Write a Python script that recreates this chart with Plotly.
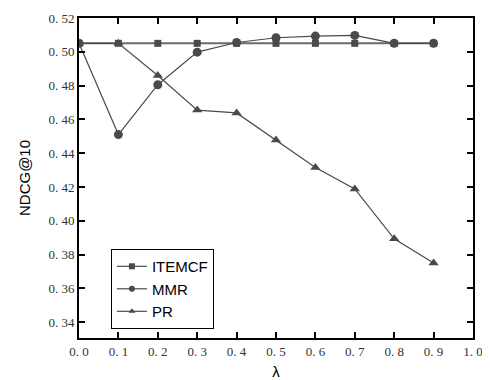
import plotly.graph_objects as go

lam = [0.0, 0.1, 0.2, 0.3, 0.4, 0.5, 0.6, 0.7, 0.8, 0.9]
itemcf = [0.505, 0.505, 0.505, 0.505, 0.505, 0.505, 0.505, 0.505, 0.505, 0.505]
mmr = [0.505, 0.451, 0.4805, 0.4998, 0.5055, 0.5083, 0.5093, 0.5097, 0.505, 0.505]
pr = [0.505, 0.505, 0.486, 0.4655, 0.4638, 0.4478, 0.4315, 0.4188, 0.3893, 0.3750]

xtick_vals = [0.0, 0.1, 0.2, 0.3, 0.4, 0.5, 0.6, 0.7, 0.8, 0.9, 1.0]
xtick_text = ["0.\u00a00", "0.\u00a01", "0.\u00a02", "0.\u00a03", "0.\u00a04", "0.\u00a05",
              "0.\u00a06", "0.\u00a07", "0.\u00a08", "0.\u00a09", "1.\u00a00"]
ytick_vals = [0.34, 0.36, 0.38, 0.40, 0.42, 0.44, 0.46, 0.48, 0.50, 0.52]
ytick_text = ["0.\u00a034", "0.\u00a036", "0.\u00a038", "0.\u00a040", "0.\u00a042",
              "0.\u00a044", "0.\u00a046", "0.\u00a048", "0.\u00a050", "0.\u00a052"]

col = "#4a4a4a"
series = [
    ("ITEMCF", itemcf, "square", 7, "#6a6a6a", 2),
    ("MMR", mmr, "circle", 9, col, 1.2),
    ("PR", pr, "triangle-up", 9, col, 1.2),
]
fig = go.Figure()
for name, vals, sym, sz, lc, lw in series:
    fig.add_trace(go.Scatter(x=lam, y=vals, name=name, mode="lines+markers", showlegend=False,
                             line=dict(color=lc, width=lw),
                             marker=dict(symbol=sym, size=sz, color=col)))
for name, vals, sym, sz, lc, lw in series:
    fig.add_trace(go.Scatter(x=[None], y=[None], name=name, mode="lines+markers",
                             line=dict(color=col, width=1.2),
                             marker=dict(symbol=sym, size=6, color=col)))

axis_common = dict(showgrid=False, zeroline=False, showline=True, linecolor="black",
                   linewidth=2, mirror="ticks", ticks="inside", ticklen=6, tickwidth=1.5,
                   tickcolor="black", automargin=False,
                   tickfont=dict(family="Liberation Serif", size=13, color="#333333"))
fig.update_xaxes(range=[0, 1.0], tickvals=xtick_vals, ticktext=xtick_text,
                 title=dict(text="λ", font=dict(family="Liberation Sans", size=15, color="black"), standoff=12),
                 **axis_common)
fig.update_yaxes(range=[0.3306, 0.52], tickvals=ytick_vals, ticktext=ytick_text,
                 title=dict(text="NDCG@10", font=dict(family="Liberation Sans", size=15, color="black"), standoff=14),
                 **axis_common)

fig.update_layout(
    width=482, height=372,
    margin=dict(l=71, r=17, t=10, b=42),
    plot_bgcolor="white", paper_bgcolor="white",
    legend=dict(x=0.081, y=0.278, xanchor="left", yanchor="top",
                bgcolor="white", bordercolor="black", borderwidth=1,
                font=dict(family="Liberation Sans", size=15, color="black"),
                tracegroupgap=0, itemwidth=30),
)
fig.write_html("out.html")
